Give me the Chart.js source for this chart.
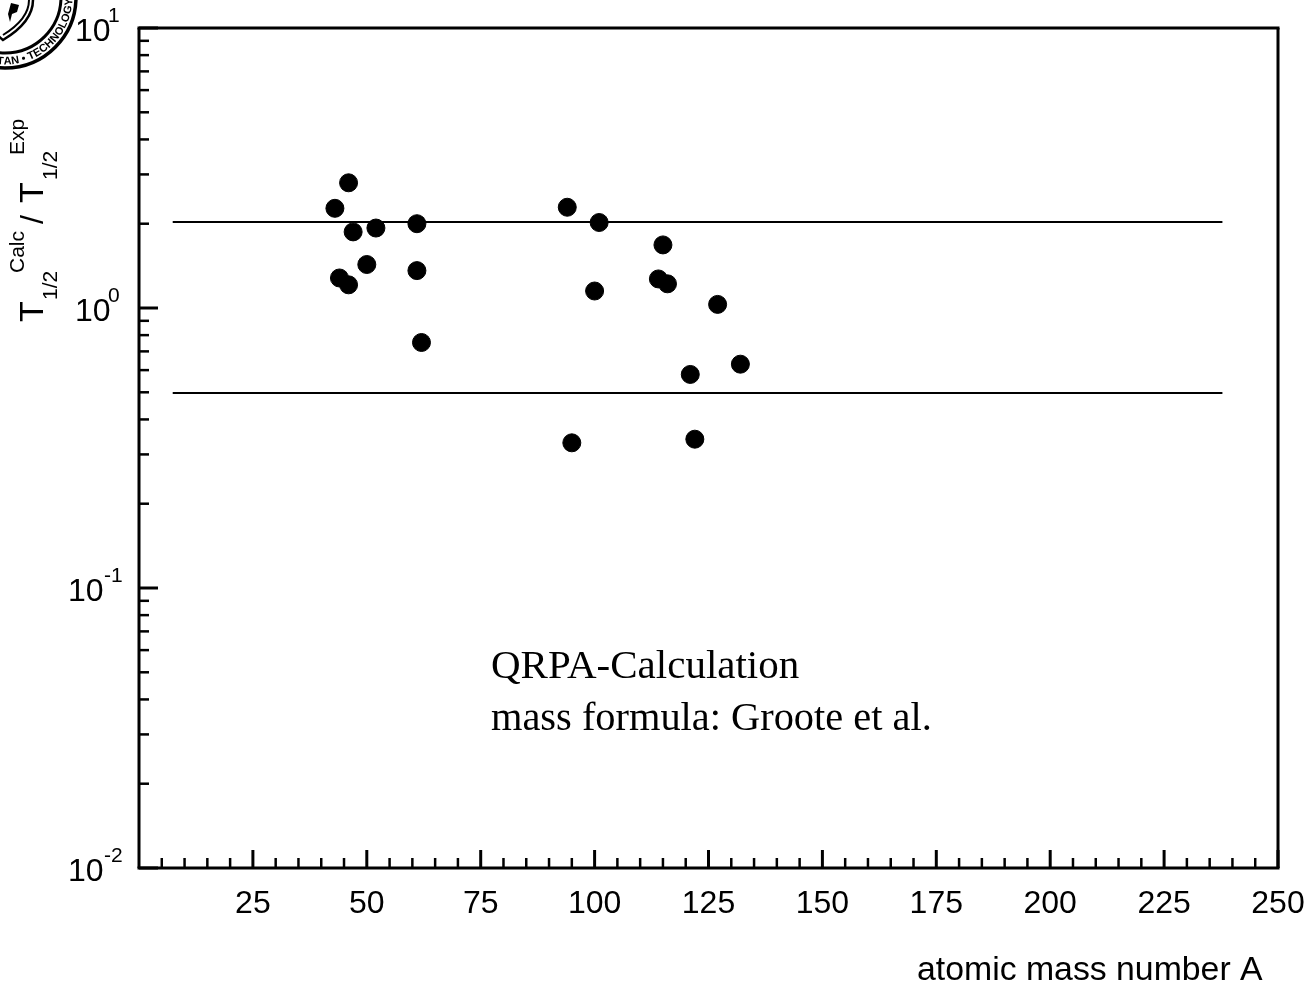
<!DOCTYPE html>
<html><head><meta charset="utf-8">
<style>html,body{margin:0;padding:0;background:#fff}#w{position:absolute;left:0;top:0;width:1310px;height:985px}</style>
<script src="https://cdn.jsdelivr.net/npm/chart.js@4"></script>
</head><body><div id="w"><canvas id="c" width="1310" height="985"></canvas></div>
<script>
const massNumbers=[43,46,47,52,61,44,46,50,61,62,94,101,100,95,115,114,116,127,132,121,122];
const halfLifeRatios=[2.27,2.8,1.87,1.93,2.0,1.28,1.21,1.43,1.36,0.753,2.29,2.02,1.15,0.33,1.68,1.27,1.22,1.03,0.63,0.579,0.34];
const upperLimitX=[7.4,237.8], upperLimitY=[2.03,2.03];
const lowerLimitX=[7.4,237.8], lowerLimitY=[0.497,0.497];
const xTickLabels=[25,50,75,100,125,150,175,200,225,250];
const yDecades=[-2,-1,0,1];
const yMinors=[2,3,4,5,6,7,8,9];
const noteLines=["QRPA-Calculation","mass formula: Groote et al."];
const xTitle="atomic mass number A";
const sealText="ISTAN \u2022 TECHNOLOGY AND";
const SANS='"Liberation Sans",Arial,sans-serif', SERIF='"Liberation Serif","Times New Roman",serif';

function drawSeal(ctx){
  const cx=5,cy=-3;
  ctx.save();
  ctx.lineWidth=3.5; ctx.beginPath(); ctx.arc(cx,cy,71,0,Math.PI*2); ctx.stroke();
  ctx.lineWidth=3; ctx.beginPath(); ctx.arc(cx,cy,56,0,Math.PI*2); ctx.stroke();
  ctx.font='bold 11px '+SANS; ctx.textAlign='center'; ctx.textBaseline='alphabetic';
  let ang=Math.PI/2+0.28;
  for(const ch of sealText){
    const w=ctx.measureText(ch).width, da=w/66;
    ang-=da/2;
    ctx.save(); ctx.translate(cx+67.5*Math.cos(ang),cy+67.5*Math.sin(ang)); ctx.rotate(ang-Math.PI/2);
    ctx.fillText(ch,0,0); ctx.restore();
    ang-=da/2;
  }
  ctx.lineWidth=2.5; ctx.beginPath();
  ctx.moveTo(33,0); ctx.quadraticCurveTo(33,22,3,40); ctx.quadraticCurveTo(-4,34,-10,28); ctx.stroke();
  ctx.lineWidth=2; ctx.beginPath();
  ctx.moveTo(29,0); ctx.quadraticCurveTo(29,19,3,35); ctx.stroke();
  ctx.beginPath();
  ctx.moveTo(11,3); ctx.lineTo(19,5); ctx.lineTo(17,12); ctx.lineTo(12,14); ctx.lineTo(10,22); ctx.lineTo(8,14); ctx.closePath(); ctx.fill();
  ctx.restore();
}
const frame={id:'frame',afterDraw(ch){
  const {ctx,scales:{x,y}}=ch;
  const a=ch.chartArea; ctx.save(); ctx.strokeStyle='#000'; ctx.fillStyle='#000';
  const line=(x1,y1,x2,y2,w)=>{ctx.lineWidth=w;ctx.beginPath();ctx.moveTo(x1,y1);ctx.lineTo(x2,y2);ctx.stroke();};
  ctx.lineCap='butt';
  line(a.left-1.5,a.top,a.right+1.5,a.top,3);
  line(a.left-1.5,a.bottom,a.right+1.5,a.bottom,3);
  line(a.left,a.top,a.left,a.bottom,3);
  line(a.right,a.top,a.right,a.bottom,3);
  for(let v=5;v<=250;v+=5){const p=x.getPixelForValue(v);const maj=v%25===0;line(p,a.bottom,p,a.bottom-(maj?18:10),maj?3:2.5);}
  yDecades.forEach(d=>{
    const p=y.getPixelForValue(Math.pow(10,d));
    line(a.left,p,a.left+19,p,3);
    if(d<1) yMinors.forEach(m=>{const q=y.getPixelForValue(m*Math.pow(10,d));line(a.left,q,a.left+10,q,2.5);});
  });
  ctx.textBaseline='alphabetic'; ctx.textAlign='center'; ctx.font='32px '+SANS;
  xTickLabels.forEach(v=>ctx.fillText(String(v),x.getPixelForValue(v),913));
  ctx.textAlign='left';
  ctx.font='33.8px '+SANS;
  ctx.fillText(xTitle,917,980);
  yDecades.forEach(d=>{
    const p=y.getPixelForValue(Math.pow(10,d));
    ctx.font='32px '+SANS; ctx.textAlign='left';
    const left={'-2':68,'-1':68,'0':75,'1':75}[d];
    ctx.fillText('10',left,p+13);
    ctx.font='21px '+SANS;
    ctx.fillText(String(d),left+(d<0?36:33),p-6);
  });
  ctx.save(); ctx.rotate(-Math.PI/2);
  const t=(s,yy,px,base)=>{ctx.font=px+'px '+SANS;ctx.fillText(s,-yy,base);};
  t('T',322,34,43); t('1/2',300,21,57); t('Calc',273,21,24);
  t('/',224,32,43); t('T',203,34,43); t('1/2',180,21,57); t('Exp',155,21,24);
  ctx.restore();
  ctx.textAlign='left';
  ctx.font='41px '+SERIF; ctx.fillText(noteLines[0],491,678);
  ctx.font='40.4px '+SERIF; ctx.fillText(noteLines[1],491,730);
  drawSeal(ctx);
  ctx.restore();
}};
new Chart(document.getElementById('c'),{
  type:'scatter',
  data:{datasets:[
    {data:massNumbers.map((v,i)=>({x:v,y:halfLifeRatios[i]})),pointRadius:9,pointHoverRadius:9,backgroundColor:'#000',borderColor:'#000',showLine:false},
    {data:upperLimitX.map((v,i)=>({x:v,y:upperLimitY[i]})),showLine:true,pointRadius:0,borderColor:'#000',borderWidth:2},
    {data:lowerLimitX.map((v,i)=>({x:v,y:lowerLimitY[i]})),showLine:true,pointRadius:0,borderColor:'#000',borderWidth:2}
  ]},
  options:{responsive:false,animation:false,devicePixelRatio:1,
    layout:{padding:{left:139,right:32,top:28,bottom:117}},
    plugins:{legend:{display:false},tooltip:{enabled:false}},
    scales:{
      x:{type:'linear',min:0,max:250,display:false},
      y:{type:'logarithmic',min:0.01,max:10,display:false}
    }},
  plugins:[frame]
});
</script></body></html>
